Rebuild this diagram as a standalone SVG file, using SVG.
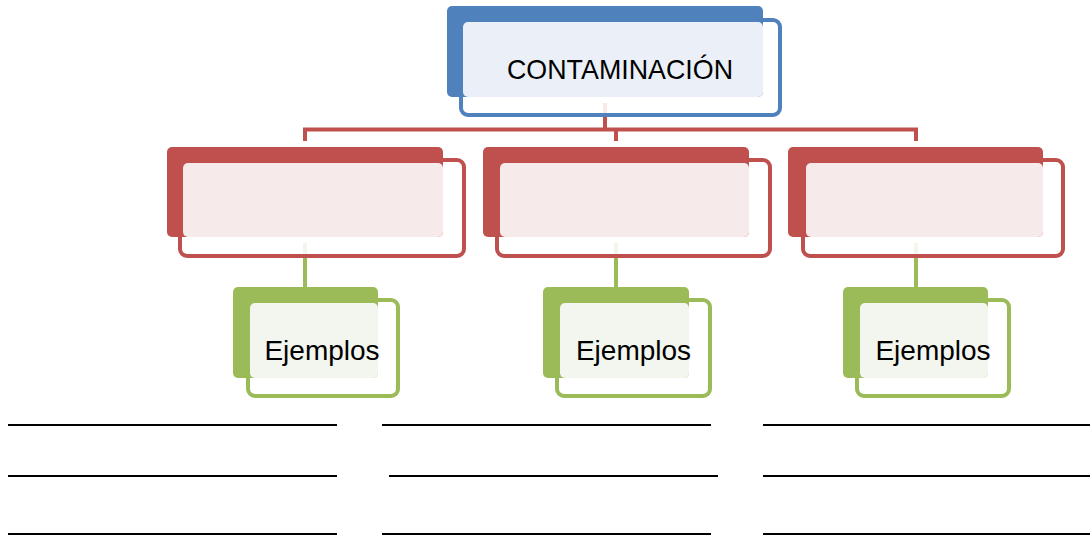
<svg xmlns="http://www.w3.org/2000/svg" width="1090" height="537" viewBox="0 0 1090 537">
  <style>
    .lbl { font-family: "Liberation Sans", Arial, sans-serif; fill: #000; text-anchor: middle; }
    .out { fill: #fff; fill-opacity: 0.88; stroke-width: 4; }
    .b-dark { fill: #4F81BD; } .b-out { stroke: #4F81BD; } .b-light { fill: #EBF0F8; }
    .r-dark { fill: #C0504D; } .r-out { stroke: #C0504D; } .r-light { fill: #F6EAEA; }
    .g-dark { fill: #9BBB59; } .g-out { stroke: #9BBB59; } .g-light { fill: #F3F6EE; }
    .rule { stroke: #000; stroke-width: 2; }
  </style>
  <rect width="1090" height="537" fill="#fff"/>
  <g id="connectors" fill="none" stroke-width="4">
    <path d="M605,103 V129.5 M305,141 V129.5 H916 V141 M616,129.5 V141" stroke="#C0504D"/>
    <path d="M305,243 V288 M616,243 V288 M916,243 V288" stroke="#9BBB59"/>
  </g>
  <g id="node-root">
    <rect class="out b-out" x="461" y="20" width="319" height="95" rx="7"/>
    <rect class="b-dark" x="447" y="6" width="316" height="91" rx="5"/>
    <rect class="b-light" x="463" y="22" width="300" height="75" rx="5"/>
    <text class="lbl" x="620" y="79" font-size="28" textLength="226" lengthAdjust="spacingAndGlyphs">CONTAMINACIÓN</text>
  </g>
  <g id="node-cat1">
    <rect class="out r-out" x="180" y="160" width="284" height="96" rx="7"/>
    <rect class="r-dark" x="167" y="147" width="276" height="90" rx="5"/>
    <rect class="r-light" x="183" y="163" width="260" height="74" rx="5"/>
  </g>
  <g id="node-cat2">
    <rect class="out r-out" x="497" y="160" width="273" height="96" rx="7"/>
    <rect class="r-dark" x="483" y="147" width="266" height="90" rx="5"/>
    <rect class="r-light" x="500" y="163" width="249" height="74" rx="5"/>
  </g>
  <g id="node-cat3">
    <rect class="out r-out" x="803" y="160" width="260" height="96" rx="7"/>
    <rect class="r-dark" x="788" y="147" width="255" height="90" rx="5"/>
    <rect class="r-light" x="806" y="163" width="237" height="74" rx="5"/>
  </g>
  <g id="node-ej1">
    <rect class="out g-out" x="248" y="300" width="150" height="96" rx="7"/>
    <rect class="g-dark" x="233" y="287" width="145" height="91" rx="5"/>
    <rect class="g-light" x="250" y="303" width="128" height="75" rx="5"/>
    <text class="lbl" x="322" y="360" font-size="28">Ejemplos</text>
  </g>
  <g id="node-ej2">
    <rect class="out g-out" x="557" y="300" width="153" height="96" rx="7"/>
    <rect class="g-dark" x="543" y="287" width="146" height="91" rx="5"/>
    <rect class="g-light" x="560" y="303" width="129" height="75" rx="5"/>
    <text class="lbl" x="633.5" y="360" font-size="28">Ejemplos</text>
  </g>
  <g id="node-ej3">
    <rect class="out g-out" x="857" y="300" width="152" height="96" rx="7"/>
    <rect class="g-dark" x="843" y="287" width="145" height="91" rx="5"/>
    <rect class="g-light" x="860" y="303" width="128" height="75" rx="5"/>
    <text class="lbl" x="933" y="360" font-size="28">Ejemplos</text>
  </g>
  <g id="rules" class="rule">
    <line x1="8" y1="425" x2="337" y2="425"/>
    <line x1="8" y1="476" x2="337" y2="476"/>
    <line x1="8" y1="534" x2="337" y2="534"/>
    <line x1="382" y1="425" x2="711" y2="425"/>
    <line x1="389" y1="476" x2="718" y2="476"/>
    <line x1="382" y1="534" x2="711" y2="534"/>
    <line x1="763" y1="425" x2="1090" y2="425"/>
    <line x1="763" y1="476" x2="1090" y2="476"/>
    <line x1="763" y1="534" x2="1090" y2="534"/>
  </g>
</svg>
